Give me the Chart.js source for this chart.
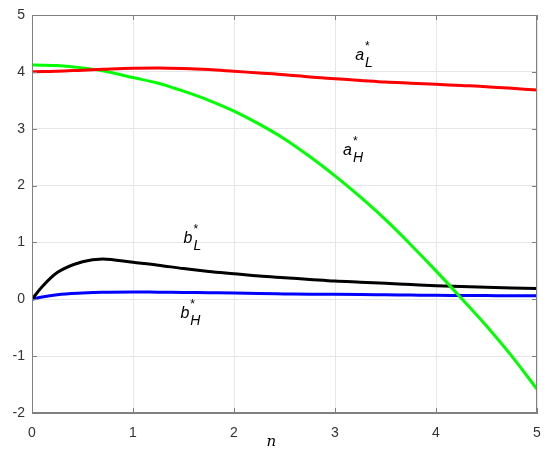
<!DOCTYPE html>
<html><head><meta charset="utf-8">
<script src="https://cdn.jsdelivr.net/npm/chart.js@4/dist/chart.umd.min.js"></script>
<style>html,body{margin:0;padding:0;background:#fff}#c{display:block}</style>
</head><body>
<canvas id="c" width="550" height="463"></canvas>
<script>
const nValues = [0,0.1,0.25,0.5,0.7,1,1.25,1.5,1.75,2,2.25,2.5,2.75,3,3.25,3.5,3.75,4,4.25,4.5,4.75,5];
const aL = [4.00,4.005,4.01,4.03,4.045,4.065,4.07,4.06,4.04,4.01,3.98,3.95,3.91,3.88,3.85,3.82,3.80,3.78,3.76,3.74,3.71,3.68];
const aH = [4.12,4.118,4.11,4.07,4.02,3.90,3.80,3.66,3.50,3.31,3.08,2.82,2.51,2.17,1.80,1.40,0.96,0.50,0.02,-0.47,-1.00,-1.58];
const bL = [0,0.22,0.47,0.66,0.71,0.65,0.60,0.54,0.49,0.45,0.41,0.38,0.35,0.32,0.30,0.28,0.26,0.24,0.225,0.21,0.20,0.19];
const bH = [0,0.04,0.08,0.11,0.125,0.13,0.125,0.12,0.115,0.11,0.10,0.095,0.09,0.088,0.085,0.08,0.075,0.07,0.068,0.065,0.062,0.06];
const xTicks = [0,1,2,3,4,5];
const yTicks = [-2,-1,0,1,2,3,4,5];
const labels = [
  {base:'a', sub:'L', x:3.2, y:4.3},
  {base:'a', sub:'H', x:3.08, y:2.63},
  {base:'b', sub:'L', x:1.5, y:1.08},
  {base:'b', sub:'H', x:1.47, y:-0.24}
];
const pts = arr => nValues.map((n,i)=>({x:n,y:arr[i]}));
const axisColor = '#808080';
const frame = {
  id:'frame',
  afterDatasetsDraw(chart){
    const {ctx, chartArea:a, scales:{x,y}} = chart;
    ctx.save();
    ctx.strokeStyle = axisColor; ctx.lineWidth = 1;
    ctx.strokeRect(a.left+0.5, a.top+0.5, a.right-a.left-1, a.bottom-a.top-1);
    ctx.beginPath();
    xTicks.forEach(v=>{const p=Math.round(x.getPixelForValue(v))+0.5;
      ctx.moveTo(p,a.bottom);ctx.lineTo(p,a.bottom-5);ctx.moveTo(p,a.top);ctx.lineTo(p,a.top+5);});
    yTicks.forEach(v=>{const p=Math.round(y.getPixelForValue(v))+0.5;
      ctx.moveTo(a.left,p);ctx.lineTo(a.left+5,p);ctx.moveTo(a.right,p);ctx.lineTo(a.right-5,p);});
    ctx.stroke();
    ctx.fillStyle='#000';
    labels.forEach(l=>{
      const px=x.getPixelForValue(l.x), py=y.getPixelForValue(l.y);
      ctx.font='italic 16px "Liberation Sans", Arial, sans-serif';
      ctx.textAlign='left'; ctx.textBaseline='alphabetic';
      ctx.fillText(l.base, px, py+5);
      const w=ctx.measureText(l.base).width;
      ctx.font='italic 14px "Liberation Sans", Arial, sans-serif';
      ctx.fillText(l.sub, px+w+1, py+12);
      ctx.font='12px "Liberation Sans", Arial, sans-serif';
      ctx.fillText('*', px+w+1, py-5);
    });
    ctx.font='italic 15px "DejaVu Serif", serif';
    ctx.textAlign='center';
    ctx.fillText('n', x.getPixelForValue(2.37), 446);
    ctx.restore();
  }
};
new Chart(document.getElementById('c'), {
  type:'line',
  data:{datasets:[
    {label:'aL', data:pts(aL), borderColor:'#ff0000', borderWidth:3, pointRadius:0, cubicInterpolationMode:'monotone'},
    {label:'aH', data:pts(aH), borderColor:'#00ff00', borderWidth:3, pointRadius:0, cubicInterpolationMode:'monotone'},
    {label:'bL', data:pts(bL), borderColor:'#000000', borderWidth:3, pointRadius:0, cubicInterpolationMode:'monotone'},
    {label:'bH', data:pts(bH), borderColor:'#0000ff', borderWidth:3, pointRadius:0, cubicInterpolationMode:'monotone'}
  ]},
  options:{
    responsive:false, animation:false,
    layout:{padding:{top:15,right:13,left:0,bottom:0}},
    plugins:{legend:{display:false}, tooltip:{enabled:false}},
    scales:{
      x:{type:'linear', min:0, max:5,
        afterBuildTicks:s=>{s.ticks=xTicks.map(v=>({value:v}));},
        afterFit:s=>{s.height=50;},
        grid:{color:'#e6e6e6', drawTicks:true, tickLength:10, tickColor:'rgba(0,0,0,0)'},
        border:{color:axisColor},
        ticks:{color:'#333', font:{family:'"Liberation Sans", Arial, sans-serif', size:14}, padding:2, maxRotation:0}
      },
      y:{type:'linear', min:-2, max:5,
        afterBuildTicks:s=>{s.ticks=yTicks.map(v=>({value:v}));},
        afterFit:s=>{s.width=32;},
        grid:{color:'#e6e6e6', drawTicks:true, tickLength:5, tickColor:'rgba(0,0,0,0)'},
        border:{color:axisColor},
        ticks:{color:'#333', font:{family:'"Liberation Sans", Arial, sans-serif', size:14}, padding:2}
      }
    }
  },
  plugins:[frame]
});
</script>
</body></html>
